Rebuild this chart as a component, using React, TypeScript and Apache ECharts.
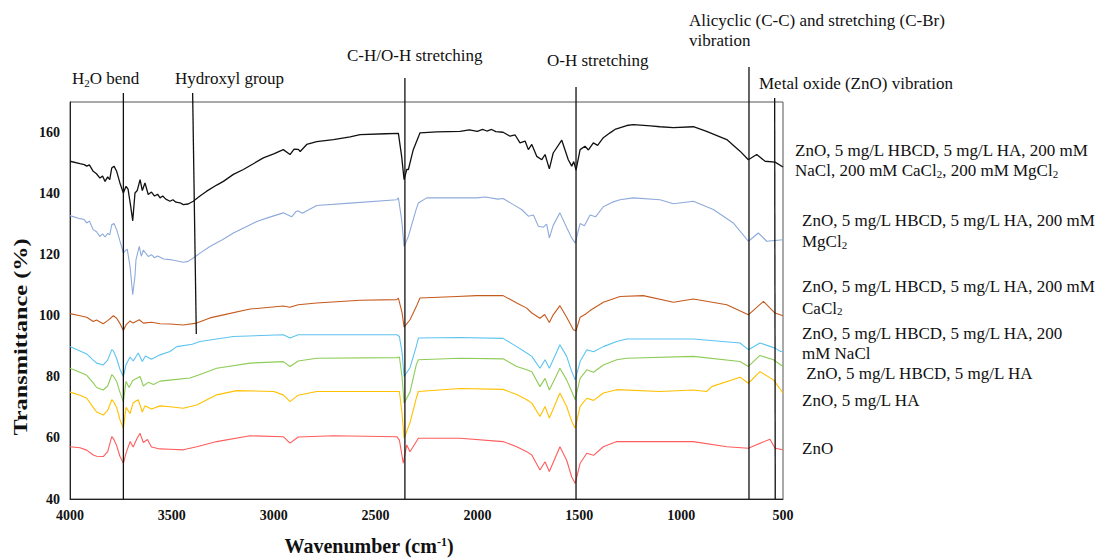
import React, { useEffect, useRef } from "react";
import * as echarts from "echarts";

// ---------- data (wavenumber cm-1, transmittance %) ----------
const X_MIN = 500;
const X_MAX = 4000;
const X_INTERVAL = 500;
const Y_MIN = 40;
const Y_MAX = 170;
const Y_INTERVAL = 20;

const SERIES_COLORS = ["#111111", "#8eaadb", "#c55a1e", "#5cc4f0", "#8fcc57", "#ffc000", "#ff5c5c"];

const ALL_SALTS: [number, number][] = [
  [4000,150.6],[3951,149.8],[3930,149.5],[3918,149],[3905,149.4],[3886,147.3],[3870,146.5],[3853,145.1],[3840,145.8],[3828,144],[3815,145.5],[3805,144.6],[3795,148.4],[3784,149],[3771,147.3],[3755,143.5],[3738,140.2],[3725,142.4],[3715,141.5],[3702,135.8],[3692,131.1],[3681,140.2],[3670,141],[3656,144.6],[3645,141],[3632,143.5],[3616,139.7],[3600,140.5],[3585,139.2],[3570,139.8],[3558,138.6],[3545,139.2],[3530,138.2],[3509,137.5],[3495,138],[3480,137.2],[3460,137],[3444,136.4],[3420,136.6],[3395,137.5],[3362,139.2],[3329,140.8],[3280,142.8],[3247,144],[3198,146.3],[3149,147.9],[3100,149.8],[3051,151.7],[3000,153],[2953,154.4],[2920,152.8],[2900,154.6],[2879,154.5],[2870,153.8],[2838,156.1],[2789,157],[2707,157.7],[2625,158.6],[2576,159.3],[2450,159.6],[2388,159.7],[2372,152.2],[2360,144.6],[2347,147.9],[2339,147.9],[2315,154.4],[2290,158.5],[2282,159.9],[2200,160.2],[2085,160.4],[2040,160.9],[2000,160.4],[1975,161],[1954,160.5],[1930,161],[1910,160.3],[1874,160.1],[1840,158.8],[1815,159.2],[1791,156.6],[1766,157.2],[1750,154.4],[1733,156.1],[1709,152.2],[1684,151.1],[1668,152.8],[1647,148.1],[1628,153.3],[1586,157.5],[1554,151.1],[1537,149],[1527,150.5],[1516,147.7],[1496,154.4],[1472,155.5],[1455,154.3],[1431,156.6],[1410,155.8],[1382,158.3],[1349,159.9],[1325,161],[1267,162.3],[1235,162.6],[1150,162.2],[1104,161.9],[1038,161.6],[940,161.9],[875,160.4],[776,157.7],[711,153.9],[670,151.1],[629,152.8],[588,150.6],[539,150.3],[500,148.7]
];

const MGCL2: [number, number][] = [
  [4000,132.8],[3951,131.8],[3930,131.5],[3918,130.4],[3905,131],[3886,128.2],[3870,127.5],[3853,126],[3840,126.8],[3828,125.8],[3815,127],[3805,126.5],[3795,129.8],[3784,130.2],[3771,128.2],[3755,124.5],[3738,120.6],[3725,121.5],[3719,121.8],[3705,116],[3692,106.9],[3681,113],[3676,118.4],[3660,122.7],[3650,119.5],[3640,121.5],[3616,119.4],[3600,120],[3585,119],[3570,119.6],[3540,118.6],[3509,118.4],[3480,118],[3444,117.5],[3420,117.8],[3395,118.9],[3362,120.5],[3313,122.7],[3250,125],[3198,127.1],[3140,129],[3083,130.9],[3020,132.3],[2953,133.7],[2912,132.4],[2890,134.2],[2879,134.3],[2860,133.6],[2789,136.1],[2625,136.9],[2396,138],[2388,138.6],[2372,131.5],[2360,122.7],[2339,126],[2300,135],[2290,136.9],[2249,138.6],[2085,138.6],[2004,138.6],[1960,138.9],[1900,138.2],[1874,138.4],[1824,136.4],[1783,134.8],[1750,132.6],[1725,133],[1701,129.3],[1676,129],[1660,130],[1647,125.5],[1628,129.6],[1595,133.7],[1562,128.9],[1537,125.5],[1520,123.8],[1496,130.2],[1475,129.5],[1447,133],[1420,132.4],[1382,135.7],[1333,137.3],[1300,138],[1235,138.6],[1104,138],[1038,136.7],[940,137.5],[842,134.8],[744,130.4],[670,124.4],[621,127.1],[580,124.4],[500,124.9]
];

const CACL2: [number, number][] = [
  [4000,100.7],[3951,100],[3918,99.5],[3886,98.1],[3870,98.6],[3837,97.4],[3815,98.4],[3787,100],[3771,99.2],[3755,97.5],[3738,95.2],[3725,97],[3705,98.3],[3690,97.6],[3660,98.7],[3640,97.6],[3600,97.9],[3558,97.4],[3509,97.3],[3444,97],[3378,97.6],[3313,99.3],[3247,100.3],[3116,102.2],[2953,103.2],[2920,102.8],[2880,103.6],[2789,104.2],[2576,105.1],[2396,105.3],[2388,105.8],[2370,101],[2360,96.3],[2331,98.7],[2300,103],[2282,105.8],[2100,106.3],[2004,106.6],[1874,106.6],[1807,104.2],[1758,102.5],[1733,100.9],[1693,99.2],[1670,100.4],[1647,97.8],[1628,100.3],[1595,103.3],[1562,99.5],[1529,95.4],[1516,95.1],[1496,99.5],[1470,100.5],[1447,101.7],[1382,104.4],[1300,106.3],[1186,106.6],[1038,104.4],[940,105.5],[776,103.6],[670,100.3],[596,104.7],[539,100.9],[500,100]
];

const NACL: [number, number][] = [
  [4000,89.9],[3951,88.5],[3918,87.5],[3886,85.5],[3869,84.5],[3837,83.9],[3815,85.5],[3795,88.9],[3787,88.5],[3771,86],[3755,82.5],[3738,80.1],[3725,84],[3705,86.5],[3690,85.2],[3665,87.8],[3645,85],[3630,86.8],[3600,85.8],[3558,87.2],[3509,88.3],[3476,89.9],[3400,90.7],[3362,91.6],[3198,93.2],[2953,93.8],[2920,92.7],[2880,93.8],[2789,93.8],[2396,93.8],[2383,93.2],[2370,88],[2360,80.1],[2331,83],[2300,90],[2290,92.7],[2085,92.9],[1874,92.6],[1807,89.9],[1758,87.8],[1733,86.7],[1693,82.8],[1668,85.6],[1647,82.8],[1595,90.5],[1562,86.7],[1537,81.7],[1520,79],[1496,85],[1463,88.9],[1430,88.2],[1382,89.9],[1316,91.6],[1267,92.4],[940,92.4],[711,91.1],[670,88.9],[613,91.1],[539,89.4],[511,88.3],[500,88.3]
];

const HBCD_HA: [number, number][] = [
  [4000,82.8],[3951,81.5],[3918,80.5],[3886,78],[3869,76.5],[3837,75.7],[3815,77],[3795,80.7],[3787,80.2],[3771,78.5],[3755,75],[3738,71.9],[3725,78.5],[3710,76.5],[3692,78.8],[3656,80.1],[3640,77],[3616,78.2],[3590,77.5],[3558,78.6],[3500,79],[3411,79.6],[3362,80.8],[3280,82.8],[3116,84.5],[2953,85],[2920,83.4],[2880,85.2],[2789,86.1],[2396,86.3],[2383,86.5],[2370,80],[2360,71.4],[2331,75],[2300,84],[2290,85.6],[2085,86.1],[1874,85.9],[1807,83.4],[1758,82.3],[1733,81.7],[1693,76.8],[1668,79.5],[1647,75.7],[1595,82.8],[1562,79],[1537,75.2],[1520,72.5],[1496,79.5],[1463,82.3],[1430,81.5],[1382,83.9],[1316,85.6],[1267,86.1],[940,86.7],[711,85],[670,83.4],[613,87],[547,85.6],[500,83.4]
];

const HA_ONLY: [number, number][] = [
  [4000,75],[3951,74],[3918,73],[3886,70],[3869,68.5],[3837,67.5],[3815,69],[3795,72.5],[3787,72],[3771,70],[3755,66],[3738,63.2],[3725,70],[3705,68],[3690,71.5],[3665,72.5],[3645,68.5],[3632,70.5],[3600,69.5],[3558,70.5],[3509,70.2],[3444,69.7],[3378,70.8],[3280,74.1],[3182,75.5],[3000,75.2],[2953,74.1],[2920,71.9],[2880,74],[2789,75.2],[2396,75.2],[2383,75.2],[2370,68],[2360,59.9],[2331,65],[2300,73],[2290,75.2],[2085,76.2],[1874,75.9],[1807,74.2],[1758,72.5],[1733,71.4],[1693,67],[1668,70.3],[1647,66.5],[1595,74.7],[1562,70.3],[1537,65.4],[1520,63.2],[1496,70.3],[1463,73],[1430,72.3],[1382,74.7],[1316,75.8],[1104,75.2],[940,75.7],[875,75.2],[850,76.8],[711,79.9],[670,77.9],[613,81.7],[547,79],[500,74.7]
];

const ZNO: [number, number][] = [
  [4000,57.1],[3951,56.8],[3918,56],[3886,54.4],[3869,54],[3837,53.9],[3815,55.5],[3795,60.4],[3787,59.8],[3771,57.5],[3755,54],[3738,51.7],[3725,55],[3705,58.8],[3690,57],[3670,60],[3656,61.5],[3640,58.5],[3620,59.5],[3600,57],[3558,56.4],[3509,56.3],[3444,56.1],[3378,57.1],[3280,58.8],[3116,60.7],[2953,60.4],[2920,58.3],[2880,60.3],[2707,60.7],[2396,60.4],[2383,59.3],[2364,51.7],[2347,57.7],[2331,55.5],[2290,59.9],[2085,59.9],[1874,58.8],[1807,57.1],[1758,55.5],[1733,54.4],[1693,49.5],[1668,52.2],[1647,49],[1595,57.1],[1562,52.7],[1537,47.2],[1520,45.1],[1496,51.7],[1463,55],[1430,54.3],[1382,57.1],[1316,58.8],[1267,58.8],[940,58.8],[776,57.1],[670,56.6],[564,59.6],[539,56.6],[500,56.1]
];

const SERIES_DATA = [ALL_SALTS, MGCL2, CACL2, NACL, HBCD_HA, HA_ONLY, ZNO];
const SERIES_NAMES = [
  "ZnO, 5 mg/L HBCD, 5 mg/L HA, 200 mM NaCl, 200 mM CaCl2, 200 mM MgCl2",
  "ZnO, 5 mg/L HBCD, 5 mg/L HA, 200 mM MgCl2",
  "ZnO, 5 mg/L HBCD, 5 mg/L HA, 200 mM CaCl2",
  "ZnO, 5 mg/L HBCD, 5 mg/L HA, 200 mM NaCl",
  "ZnO, 5 mg/L HBCD, 5 mg/L HA",
  "ZnO, 5 mg/L HA",
  "ZnO",
];

// legend label lines (rich text)
const LABEL_LINES: string[][] = [
  ["ZnO, 5 mg/L HBCD, 5 mg/L HA, 200 mM", "NaCl, 200 mM CaCl{s|2}, 200 mM MgCl{s|2}"],
  ["ZnO, 5 mg/L HBCD, 5 mg/L HA, 200 mM", "MgCl{s|2}"],
  ["ZnO, 5 mg/L HBCD, 5 mg/L HA, 200 mM", "CaCl{s|2}"],
  ["ZnO, 5 mg/L HBCD, 5 mg/L HA, 200", "mM NaCl"],
  [" ZnO, 5 mg/L HBCD, 5 mg/L HA"],
  ["ZnO, 5 mg/L HA"],
  ["ZnO"],
];

// band assignments (wavenumber positions of guide lines)
const BANDS = [
  { label: "H{s|2}O bend", top: 3738, bottom: 3738 },
  { label: "Hydroxyl group", top: 3398, bottom: 3380 },
  { label: "C-H/O-H stretching", top: 2356, bottom: 2356 },
  { label: "O-H stretching", top: 1516, bottom: 1516 },
  { label: "Alicyclic (C-C) and stretching (C-Br)\nvibration", top: 667, bottom: 667 },
  { label: "Metal oxide (ZnO) vibration", top: 541, bottom: 538 },
];

const SERIF = "'Liberation Serif', 'Times New Roman', serif";

export default function App() {
  const ref = useRef<HTMLDivElement>(null);

  useEffect(() => {
    const chart = echarts.init(ref.current!, null, { renderer: "svg" });
    const option: any = {
      animation: false,
      backgroundColor: "#ffffff",
      grid: { left: 70, right: 329, top: 102, bottom: 60, show: true, borderColor: "#555", borderWidth: 1 },
      xAxis: {
        type: "value",
        min: X_MIN,
        max: X_MAX,
        interval: X_INTERVAL,
        inverse: true,
        axisLine: { show: true, lineStyle: { color: "#222", width: 1 } },
        axisTick: { show: false },
        splitLine: { show: false },
        axisLabel: {
          color: "#111",
          fontFamily: SERIF,
          fontWeight: "bold",
          fontSize: 14,
          margin: 9,
          formatter: (v: number) => String(v),
        },
      },
      yAxis: {
        type: "value",
        min: Y_MIN,
        max: Y_MAX,
        interval: Y_INTERVAL,
        axisLine: { show: true, lineStyle: { color: "#222", width: 1 } },
        axisTick: { show: false },
        splitLine: { show: false },
        axisLabel: {
          color: "#111",
          fontFamily: SERIF,
          fontWeight: "bold",
          fontSize: 14,
          margin: 10,
          showMaxLabel: false,
          formatter: (v: number) => String(v),
        },
      },
      series: SERIES_DATA.map((d, i) => ({
        name: SERIES_NAMES[i],
        type: "line",
        data: d,
        showSymbol: false,
        symbol: "none",
        lineStyle: { color: SERIES_COLORS[i], width: i === 0 ? 1.3 : 1.1 },
        itemStyle: { color: SERIES_COLORS[i] },
        z: 2,
      })),
    };
    chart.setOption(option);

    const px = (wn: number) => chart.convertToPixel({ xAxisIndex: 0 }, wn) as number;
    const yBottom = chart.convertToPixel({ yAxisIndex: 0 }, Y_MIN) as number;

    const lineTops = [93, 93, 78, 87, 67, 98];
    const lineBottoms = [yBottom, 334, yBottom, yBottom, yBottom, yBottom];
    const labelPos: [number, number][] = [[72, 78], [175, 78], [347, 55], [547, 60], [689, 30], [759, 83]];
    const rich = { s: { fontSize: 11, fontFamily: SERIF, fill: "#111", verticalAlign: "bottom", padding: [6, 0, 0, 0] } };

    const graphics: any[] = [];
    BANDS.forEach((b, i) => {
      graphics.push({
        type: "line",
        z: 10,
        shape: { x1: px(b.top), y1: lineTops[i], x2: px(b.bottom), y2: lineBottoms[i] },
        style: { stroke: "#111", lineWidth: 1.3 },
      });
      graphics.push({
        type: "text",
        z: 10,
        x: labelPos[i][0],
        y: labelPos[i][1],
        style: {
          text: b.label,
          font: `17px ${SERIF}`,
          fill: "#111",
          align: "left",
          verticalAlign: "middle",
          lineHeight: 20,
          rich,
        },
      });
    });

    const legendY = [[150.7, 170.7], [220.7, 241.7], [286.7, 308], [333, 353], [373], [400], [448]];
    const legendX = [795, 802, 802, 802, 802, 802, 802];
    LABEL_LINES.forEach((lines, i) => {
      lines.forEach((t, j) => {
        graphics.push({
          type: "text",
          z: 10,
          x: legendX[i],
          y: legendY[i][j],
          style: { text: t, font: `17px ${SERIF}`, fill: "#111", align: "left", verticalAlign: "middle", rich },
        });
      });
    });

    graphics.push({
      type: "text",
      z: 10,
      x: 21,
      y: 337,
      rotation: Math.PI / 2,
      scaleX: 1.35,
      style: { text: "Transmittance (%)", font: `bold 18px ${SERIF}`, fill: "#111", align: "center", verticalAlign: "middle" },
    });
    graphics.push({
      type: "text",
      z: 10,
      x: 369,
      y: 546,
      scaleY: 1.1,
      style: {
        text: "{t|Wavenumber (cm}{u|-1}{t|)}",
        fill: "#111",
        align: "center",
        verticalAlign: "middle",
        rich: {
          t: { font: `bold 20px ${SERIF}`, fill: "#111" },
          u: { font: `bold 12px ${SERIF}`, fill: "#111", verticalAlign: "top", padding: [0, 0, 8, 0] },
        },
      },
    });

    chart.setOption({ graphic: graphics });
    return () => chart.dispose();
  }, []);

  return <div ref={ref} style={{ position: "absolute", left: 0, top: 0, width: 1112, height: 559 }} />;
}
